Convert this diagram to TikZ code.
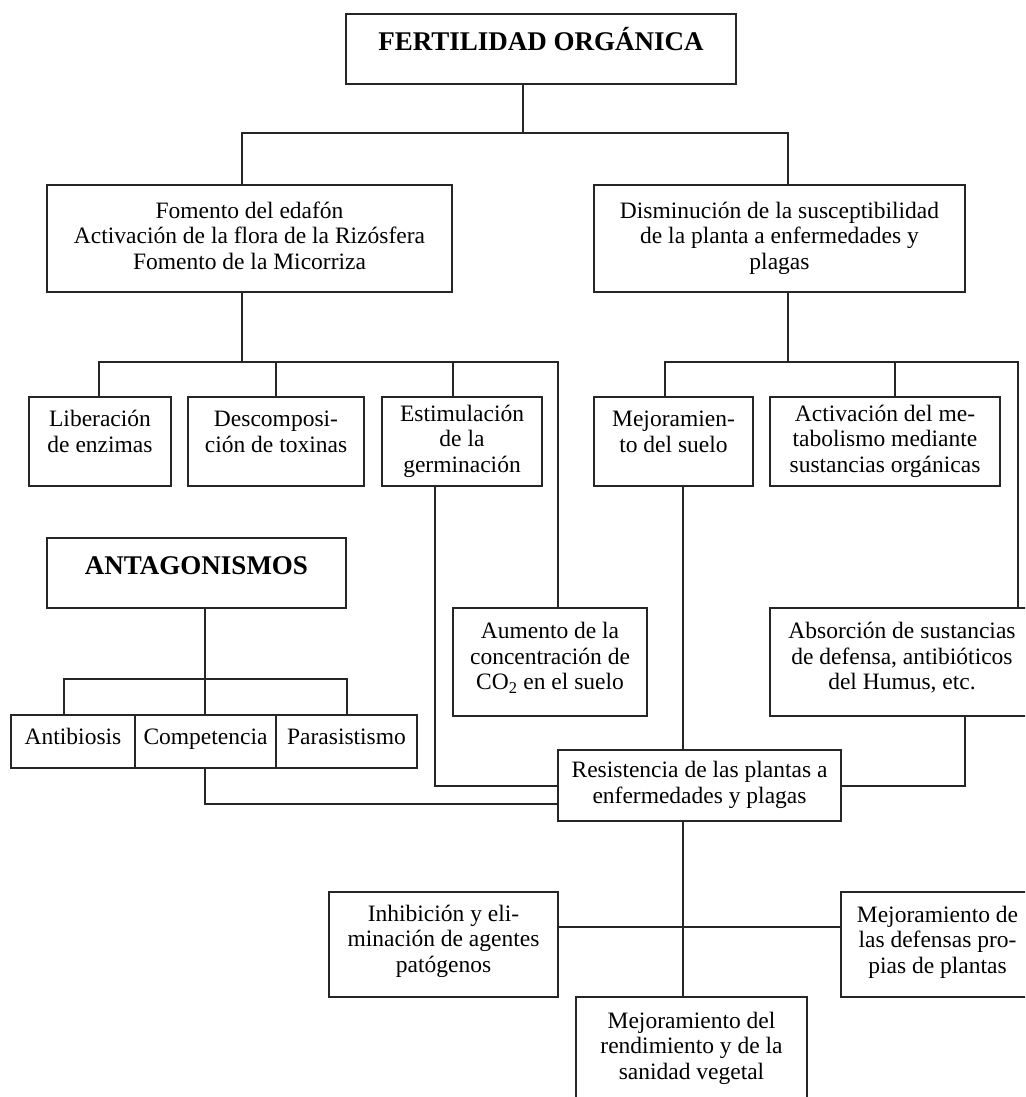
\documentclass[tikz,border=0pt]{standalone}
\usepackage{fontspec}
\setmainfont{Liberation Serif}
\newcommand{\tx}[2][0pt]{\raisebox{#1}[\height][\depth]{\begin{tabular}{@{}c@{}}#2\end{tabular}}}
\tikzset{
  box/.style={draw=black!85, line width=1.2pt, rectangle, inner sep=0pt, fill=white,
    font=\fontsize{23.5}{25.5}\selectfont},
  bigbox/.style={box, font=\fontsize{27}{30}\selectfont\bfseries},
  conn/.style={draw=black!85, line width=1.2pt}
}
\begin{document}
\begin{tikzpicture}[x=1pt,y=1pt]
\useasboundingbox (0,0) rectangle (1025,-1097);
\clip (0,0) rectangle (1025,-1097);
\fill[white] (0,0) rectangle (1025,-1097);

% junction coordinates
\coordinate (j0) at (523,-133);
\coordinate (jL) at (242,-133);
\coordinate (jR) at (788,-133);
\coordinate (a0) at (242,-362);
\coordinate (a1) at (99,-362);
\coordinate (a3) at (453,-362);
\coordinate (a4) at (558,-362);
\coordinate (b0) at (788,-362);
\coordinate (b1) at (665,-362);
\coordinate (b2) at (895,-362);
\coordinate (b3) at (1018,-362);
\coordinate (e1) at (435,-786);
\coordinate (m1) at (683,-750);
\coordinate (ab) at (965,-786);
\coordinate (t0) at (205,-679);
\coordinate (t1) at (64,-679);
\coordinate (t2) at (347,-679);
\coordinate (c1) at (205,-804);
\coordinate (r1) at (683,-927);

% boxes
\node[bigbox, minimum width=390, minimum height=70] (top) at (541,-49) {\tx[6pt]{FERTILIDAD ORGÁNICA}};
\node[box, minimum width=405, minimum height=107] (edafon) at (249.5,-238.5) {\tx{Fomento del edafón\\Activación de la flora de la Rizósfera\\Fomento de la Micorriza}};
\node[box, minimum width=371, minimum height=107] (dismin) at (779.5,-238.5) {\tx{Disminución de la susceptibilidad\\de la planta a enfermedades y\\plagas}};
\node[box, minimum width=142, minimum height=89] (lib) at (100,-441.5) {\tx[7pt]{Liberación\\de enzimas}};
\node[box, minimum width=176, minimum height=89] (desc) at (276,-441.5) {\tx[7pt]{Descomposi-\\ción de toxinas}};
\node[box, minimum width=160, minimum height=89] (estim) at (462,-441.5) {\tx{Estimulación\\de la\\germinación}};
\node[box, minimum width=159, minimum height=89] (mejsuelo) at (673.5,-441.5) {\tx[7pt]{Mejoramien-\\to del suelo}};
\node[box, minimum width=230, minimum height=89] (activ) at (885,-441.5) {\tx{Activación del me-\\tabolismo mediante\\sustancias orgánicas}};
\node[bigbox, minimum width=299, minimum height=70] (antag) at (196.5,-573) {\tx[5pt]{ANTAGONISMOS}};
\node[box, minimum width=194, minimum height=108] (aumento) at (550,-662) {\tx[3pt]{Aumento de la\\concentración de\\CO\textsubscript{2} en el suelo}};
\node[box, minimum width=264, minimum height=108] (absorc) at (902,-662) {\tx[3pt]{Absorción de sustancias\\de defensa, antibióticos\\del Humus, etc.}};
\node[box, minimum width=124, minimum height=53] (antib) at (73,-741.5) {\tx[2pt]{Antibiosis}};
\node[box, minimum width=141, minimum height=53] (comp) at (205.5,-741.5) {\tx[2pt]{Competencia}};
\node[box, minimum width=141, minimum height=53] (paras) at (346.5,-741.5) {\tx[2pt]{Parasistismo}};
\node[box, minimum width=283, minimum height=71] (resist) at (699.5,-785.5) {\tx{Resistencia de las plantas a\\enfermedades y plagas}};
\node[box, minimum width=229, minimum height=105] (inhib) at (443.5,-944.5) {\tx[3pt]{Inhibición y eli-\\minación de agentes\\patógenos}};
\node[box, minimum width=193, minimum height=105] (mejdef) at (937.5,-944.5) {\tx[2pt]{Mejoramiento de\\las defensas pro-\\pias de plantas}};
\node[box, minimum width=231, minimum height=103] (mejrend) at (691.5,-1048.5) {\tx{Mejoramiento del\\rendimiento y de la\\sanidad vegetal}};

% connectors between named nodes
\draw[conn] (top.south -| j0) -- (j0);
\draw[conn] (edafon.north -| jL) -- (jL) -- (jR) -- (dismin.north -| jR);
\draw[conn] (edafon.south -| a0) -- (a0);
\draw[conn] (lib.north -| a1) -- (a1) -- (a4) -- (aumento.north -| a4);
\draw[conn] (desc.north) -- (desc.north |- a1);
\draw[conn] (estim.north -| a3) -- (a3);
\draw[conn] (dismin.south -| b0) -- (b0);
\draw[conn] (mejsuelo.north -| b1) -- (b1) -- (b3) -- (absorc.north -| b3);
\draw[conn] (activ.north -| b2) -- (b2);
\draw[conn] (estim.south -| e1) -- (e1) -- (resist.west |- e1);
\draw[conn] (mejsuelo.south -| m1) -- (resist.north -| m1);
\draw[conn] (absorc.south -| ab) -- (ab) -- (resist.east |- ab);
\draw[conn] (antag.south -| t0) -- (comp.north -| t0);
\draw[conn] (antib.north -| t1) -- (t1) -- (t2) -- (paras.north -| t2);
\draw[conn] (comp.south -| c1) -- (c1) -- (resist.west |- c1);
\draw[conn] (resist.south -| r1) -- (mejrend.north -| r1);
\draw[conn] (inhib.east |- r1) -- (mejdef.west |- r1);
\end{tikzpicture}
\end{document}
